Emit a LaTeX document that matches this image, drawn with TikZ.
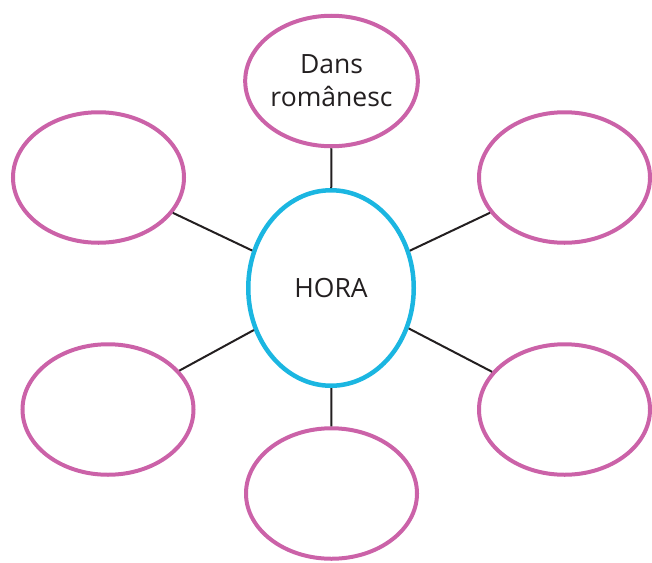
\documentclass[tikz,border=0pt]{standalone}
\usepackage{fontspec}
\setmainfont{Open Sans}
\usetikzlibrary{shapes.geometric}
\definecolor{pinkc}{HTML}{CB62A8}
\definecolor{cyanc}{HTML}{1BB6E1}
\definecolor{txt}{HTML}{231F20}
\tikzset{
  outer/.style={ellipse, draw=pinkc, line width=4pt, inner sep=0pt, minimum width=171pt, minimum height=130.5pt, text=txt, align=center, font=\fontsize{26.5}{33}\selectfont},
  hub/.style={ellipse, draw=cyanc, line width=4.5pt, inner sep=0pt, minimum width=165.5pt, minimum height=195.5pt, text=txt, font=\fontsize{26.5}{33}\selectfont},
  link/.style={draw=txt, line width=2pt}
}
\begin{document}
\begin{tikzpicture}[x=1pt,y=-1pt]
\useasboundingbox (0,0) rectangle (652,562);
\node[hub] (c) at (331,288) {HORA};
\node[outer] (t) at (331.5,81) {Dans\\românesc};
\node[outer] (ul) at (98.5,177.5) {};
\node[outer] (ur) at (564.5,177.5) {};
\node[outer] (ll) at (108,409.5) {};
\node[outer] (lr) at (564.5,409.5) {};
\node[outer] (b) at (331.5,493.5) {};
\draw[link] (c) -- (t);
\draw[link] (c) -- (ul);
\draw[link] (c) -- (ur);
\draw[link] (c) -- (ll);
\draw[link] (c) -- (lr);
\draw[link] (c) -- (b);
\end{tikzpicture}
\end{document}
